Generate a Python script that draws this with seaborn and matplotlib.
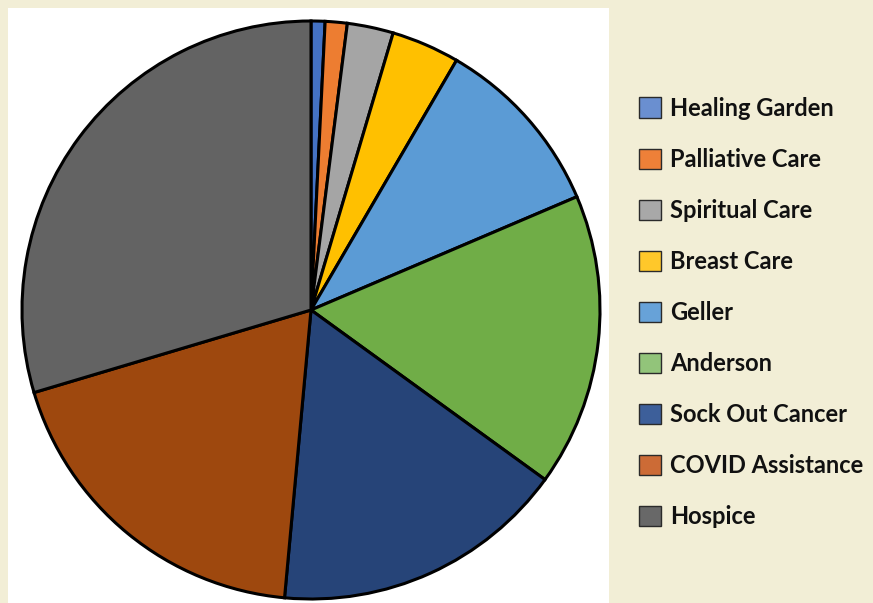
import matplotlib
matplotlib.use("Agg")
import matplotlib.pyplot as plt
from matplotlib.patches import Patch
import seaborn as sns

# programs and their share of the total (in %)
programs = ["Healing Garden", "Palliative Care", "Spiritual Care", "Breast Care",
            "Geller", "Anderson", "Sock Out Cancer", "COVID Assistance", "Hospice"]
shares = [0.78, 1.23, 2.58, 3.81, 10.19, 16.39, 16.48, 18.93, 29.61]

pie_colors = ["#4472C4", "#ED7D31", "#A5A5A5", "#FFC000", "#5B9BD5",
              "#70AD47", "#264478", "#9E480E", "#636363"]
legend_colors = ["#6A8FD0", "#EE8038", "#A8A8A8", "#FFC82A", "#67A2D8",
                 "#92C47A", "#3D5F9A", "#CC6B36", "#686868"]

sns.set_theme(style="white")
plt.rcParams["font.family"] = ["Lato", "DejaVu Sans"]

W, H = 873, 603
fig = plt.figure(figsize=(W / 100, H / 100), dpi=100)
fig.patch.set_facecolor("#F2EED6")

# white plot area on the left
ax = fig.add_axes([8 / W, 0, 601 / W, 595 / H])
ax.pie(shares, colors=pie_colors, startangle=90, counterclock=False,
       wedgeprops=dict(edgecolor="black", linewidth=2.2))
r = 289.0
ax.set_xlim(-303 / r, 298 / r)
ax.set_ylim(-293 / r, 302 / r)
ax.set_aspect("auto")
ax.set_frame_on(True)
ax.patch.set_facecolor("white")
for s in ax.spines.values():
    s.set_visible(False)

handles = [Patch(facecolor=c, edgecolor="#2a2a2a", linewidth=1.0) for c in legend_colors]
leg = fig.legend(handles, programs, loc="center left",
                 bbox_to_anchor=(639 / W, (H - 312.5) / H),
                 frameon=False, borderpad=0, borderaxespad=0,
                 handlelength=0.93, handleheight=0.93, handletextpad=0.38,
                 labelspacing=1.19,
                 prop=dict(family=["Lato", "DejaVu Sans"], weight="bold", size=17))
for t in leg.get_texts():
    t.set_color("#111111")

fig.savefig("out.png", dpi=100, facecolor=fig.get_facecolor())
